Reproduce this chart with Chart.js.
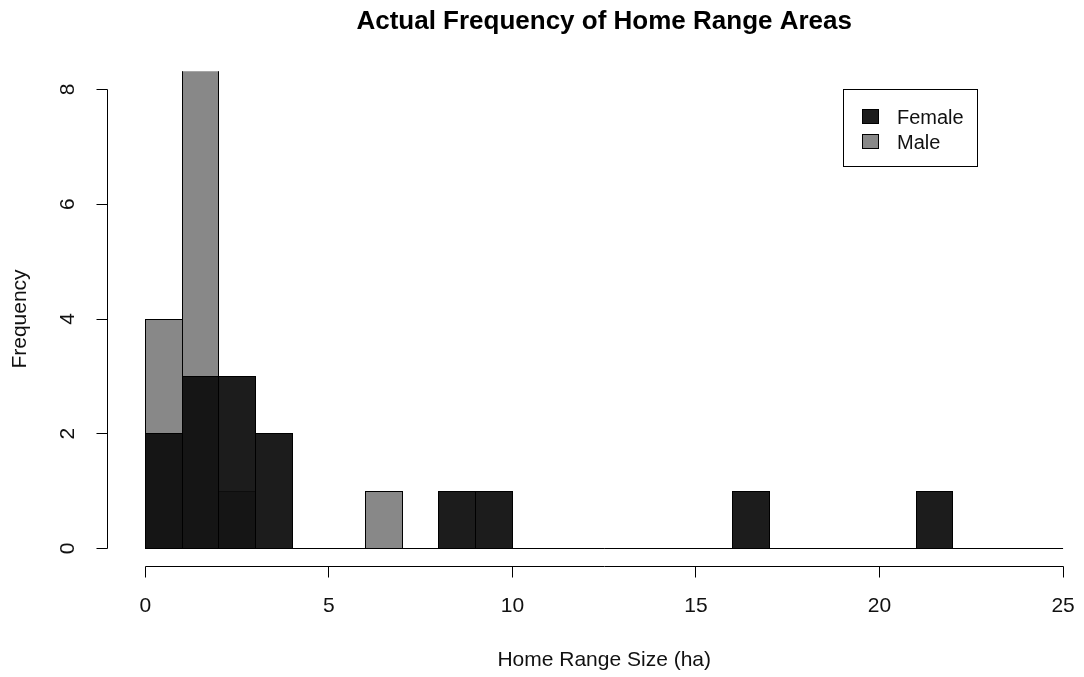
<!DOCTYPE html>
<html><head><meta charset="utf-8">
<script src="https://cdn.jsdelivr.net/npm/chart.js@4/dist/chart.umd.min.js"></script>
<style>html,body{margin:0;padding:0;background:#fff;overflow:hidden}#wrap{width:1084px;height:677px;position:relative}</style>
</head><body><div id="wrap"><canvas id="c"></canvas></div>
<script>
// ---- data ----
const breaks = [0,1,2,3,4,5,6,7,8,9,10,11,12,13,14,15,16,17,18,19,20,21,22,23,24,25];
const binCenters = [0.5,1.5,2.5,3.5,4.5,5.5,6.5,7.5,8.5,9.5,10.5,11.5,12.5,13.5,14.5,15.5,16.5,17.5,18.5,19.5,20.5,21.5,22.5,23.5,24.5];
const maleCounts   = [4,9,1,0,0,0,1,0,0,0,0,0,0,0,0,0,0,0,0,0,0,0,0,0,0];
const femaleCounts = [2,3,3,2,0,0,0,0,1,1,0,0,0,0,0,0,1,0,0,0,0,1,0,0,0];
const xTicks = [0,5,10,15,20,25];
const yTicks = [0,2,4,6,8];
const seriesNames = ["Female","Male"];
const titleText = "Actual Frequency of Home Range Areas";
const xTitleText = "Home Range Size (ha)";
const yTitleText = "Frequency";

const FEMALE_COL = "rgba(14,14,14,0.94)";
const FEMALE_KEY = "#1c1c1c";
const MALE_COL = "#888888";
const FONT = '"Liberation Sans", Arial, sans-serif';

function toPoints(counts){
  return counts.map((v,i)=>({x: binCenters[i], y: v === 0 ? null : v}));
}
const px = v => Math.floor(v) + 0.5;

// crisp R-style bar outlines, drawn right after each bar dataset
const outlines = {
  id: 'outlines',
  afterDatasetDraw(chart, args){
    const ds = chart.data.datasets[args.index];
    if (ds.type === 'line') return;
    const ctx = chart.ctx, ca = chart.chartArea;
    ctx.save();
    ctx.beginPath(); ctx.rect(ca.left, ca.top, ca.right-ca.left, ca.bottom-ca.top); ctx.clip();
    ctx.strokeStyle = '#000'; ctx.lineWidth = 1;
    args.meta.data.forEach((el,i)=>{
      if (ds.data[i].y == null) return;
      const p = el.getProps(['x','y','base','width'], true);
      const l = px(p.x - p.width/2), r = px(p.x + p.width/2);
      const t = px(p.y), b = px(p.base);
      ctx.strokeRect(l, t, r-l, b-t);
    });
    ctx.restore();
  }
};

const rPlot = {
  id: 'rPlot',
  afterDraw(chart){
    const ctx = chart.ctx, xs = chart.scales.x, ys = chart.scales.y, ca = chart.chartArea;
    ctx.save();
    ctx.strokeStyle = '#000'; ctx.lineWidth = 1; ctx.fillStyle = '#111';
    // y axis
    const ax = Math.round(ca.left) - 1.5;
    ctx.beginPath();
    ctx.moveTo(ax, px(ys.getPixelForValue(yTicks[0])));
    ctx.lineTo(ax, px(ys.getPixelForValue(yTicks[yTicks.length-1])));
    yTicks.forEach(t=>{ const p = px(ys.getPixelForValue(t)); ctx.moveTo(ax,p); ctx.lineTo(ax-11,p); });
    ctx.stroke();
    ctx.font = '21px ' + FONT; ctx.textAlign = 'center'; ctx.textBaseline = 'middle';
    yTicks.forEach(t=>{ const p = ys.getPixelForValue(t);
      ctx.save(); ctx.translate(68, p); ctx.rotate(-Math.PI/2); ctx.fillText(String(t),0,0); ctx.restore(); });
    // x axis
    const ay = px(ca.bottom);
    ctx.beginPath();
    ctx.moveTo(px(xs.getPixelForValue(xTicks[0])), ay);
    ctx.lineTo(px(xs.getPixelForValue(xTicks[xTicks.length-1])), ay);
    xTicks.forEach(t=>{ const p = px(xs.getPixelForValue(t)); ctx.moveTo(p,ay); ctx.lineTo(p,ay+11); });
    ctx.stroke();
    xTicks.forEach(t=>{ ctx.fillText(String(t), xs.getPixelForValue(t), 606); });
    const cx = xs.getPixelForValue((xTicks[0]+xTicks[xTicks.length-1])/2);
    ctx.fillText(xTitleText, cx, 660);
    ctx.save(); ctx.translate(20, (ca.top+ca.bottom)/2); ctx.rotate(-Math.PI/2); ctx.fillText(yTitleText,0,0); ctx.restore();
    // title
    ctx.fillStyle = '#000';
    ctx.font = 'bold 26px ' + FONT;
    ctx.fillText(titleText, cx, 22);
    // legend
    ctx.fillStyle = '#fff';
    ctx.strokeStyle = '#000';
    ctx.fillRect(843.5, 89.5, 134, 77);
    ctx.strokeRect(843.5, 89.5, 134, 77);
    const keyCols = [FEMALE_KEY, MALE_COL];
    ctx.font = '20px ' + FONT; ctx.textAlign = 'left';
    seriesNames.forEach((n,i)=>{
      const y0 = 109.5 + i*25;
      ctx.fillStyle = keyCols[i];
      ctx.fillRect(862.5, y0, 16, 14);
      ctx.strokeRect(862.5, y0, 16, 14);
      ctx.fillStyle = '#111';
      ctx.fillText(n, 897, y0 + 8.5);
    });
    ctx.restore();
  }
};

new Chart(document.getElementById('c'), {
  type: 'bar',
  data: {
    datasets: [
      { label: seriesNames[0], data: toPoints(femaleCounts), backgroundColor: FEMALE_COL,
        borderWidth: 0, order: 1,
        barPercentage: 1, categoryPercentage: 1, grouped: false, inflateAmount: 0 },
      { label: seriesNames[1], data: toPoints(maleCounts), backgroundColor: MALE_COL,
        borderWidth: 0, order: 2,
        barPercentage: 1, categoryPercentage: 1, grouped: false, inflateAmount: 0 },
      { type: 'line', label: 'base', data: [{x: breaks[0], y: 0}, {x: breaks[breaks.length-1], y: 0}],
        borderColor: '#000', borderWidth: 1, pointRadius: 0, order: 0 }
    ]
  },
  options: {
    responsive: true, maintainAspectRatio: false, animation: false,
    layout: { padding: { left: 108.6, top: 71.14, right: 0, bottom: 110.14 } },
    plugins: { legend: { display: false }, tooltip: { enabled: false }, title: { display: false } },
    scales: {
      x: { type: 'linear', min: -1, max: 25.57, display: false, offset: false, grid: { offset: false },
           afterBuildTicks: s => { s.ticks = xTicks.map(v=>({value:v})); } },
      y: { type: 'linear', min: -0.32, max: 8.32, display: false,
           afterBuildTicks: s => { s.ticks = yTicks.map(v=>({value:v})); } }
    }
  },
  plugins: [outlines, rPlot]
});
</script></body></html>
